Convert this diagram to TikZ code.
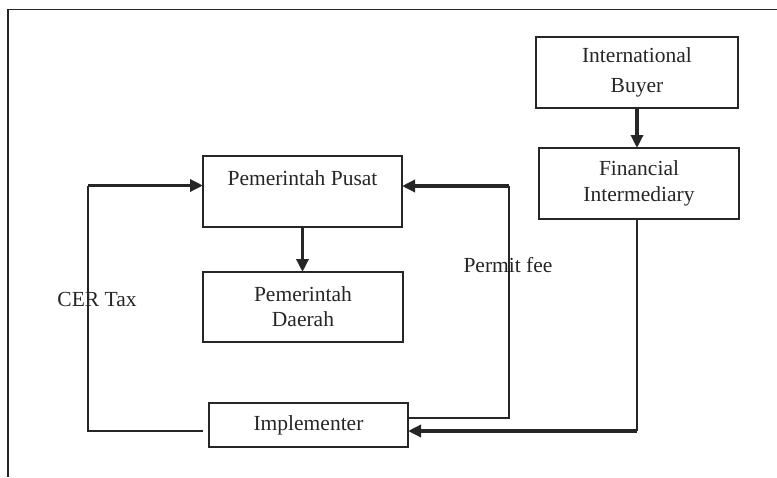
\documentclass[tikz,border=0pt]{standalone}
\usepackage{fontspec}
\setmainfont{Liberation Serif}
\usetikzlibrary{arrows.meta}
\definecolor{ink}{HTML}{262626}
\begin{document}
\begin{tikzpicture}[x=1pt,y=-1pt,
  every node/.style={text=ink, font=\fontsize{21.5}{26}\selectfont},
  box/.style={draw=ink, line width=1.6pt, rectangle, inner sep=0pt, outer sep=0pt, align=center},
  thinline/.style={draw=ink, line width=1.5pt},
  heavyarrow/.style={draw=ink, line width=3.3pt, -{Triangle[length=13pt,width=12pt]}},
  frameline/.style={draw=ink, line width=1.9pt}
]
\useasboundingbox (0,0) rectangle (777,477);

% open frame (top and left edges)
\draw[frameline] (777,9.5) -- (8,9.5) -- (8,477);

% boxes
\node[box, minimum width=202pt, minimum height=71pt,
      font=\fontsize{21.5}{30}\selectfont] (buyer) at (637,72.5) {International\\Buyer};
\node[box, minimum width=200pt, minimum height=71pt] (fin) at (639,183.5) {Financial\\Intermediary};
\node[box, minimum width=199pt, minimum height=71pt] (pusat) at (302.5,191.5) {Pemerintah Pusat\\\mbox{}};
\node[box, minimum width=200pt, minimum height=70pt,
      font=\fontsize{21.5}{25}\selectfont] (daerah) at (303,307) {Pemerintah\\Daerah};
\node[box, minimum width=199pt, minimum height=44pt] (impl) at (308.5,425) {Implementer};

% labels
\node[anchor=base, inner sep=0pt] (cer) at (97,306) {CER Tax};
\node[anchor=base, inner sep=0pt] (permit) at (508,272) {Permit fee};

% corner points of the loops
\coordinate (cerStart) at (203,431);
\coordinate (cerLow) at (88,431);
\coordinate (cerTop) at (88,185.5);
\coordinate (permitStart) at (408,418);
\coordinate (permitLow) at (509,418);
\coordinate (permitTop) at (509,186);
\coordinate (finLow) at (637,431);
\coordinate (finTop) at (637,219);

% vertical flows
\draw[heavyarrow] (buyer.south) -- (buyer.south |- fin.north);
\draw[heavyarrow] (pusat.south) -- (pusat.south |- daerah.north);

% CER Tax loop
\draw[thinline] (cerStart) -- (cerLow) -- (cerTop);
\draw[heavyarrow] (cerTop) -- (pusat.west |- cerTop);

% Permit fee loop
\draw[thinline] (permitStart) -- (permitLow) -- (permitTop);
\draw[heavyarrow] (permitTop) -- (pusat.east |- permitTop);

% payment from the intermediary
\draw[draw=ink, line width=2.2pt] (finTop) -- (finLow);
\draw[heavyarrow] (finLow) -- (impl.east |- finLow);
\end{tikzpicture}
\end{document}
